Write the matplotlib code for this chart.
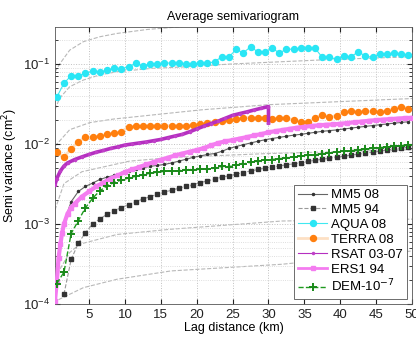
import numpy as np
import matplotlib.pyplot as plt
from matplotlib.ticker import LogLocator, NullFormatter, FixedLocator

plt.rcParams['font.family'] = ['Liberation Sans', 'DejaVu Sans']

# lag bins (km)
lag = np.arange(0.5, 50, 1.0)          # 0.5 ... 49.5
lag_mm5 = np.arange(1.5, 50, 1.0)      # 1.5 ... 49.5

aqua_08 = [0.0385, 0.0575, 0.0715, 0.0715, 0.0766, 0.0818, 0.0788, 0.0842, 0.0884, 0.0867,
           0.0925, 0.102, 0.0944, 0.100, 0.100, 0.1038, 0.102, 0.102, 0.099, 0.099,
           0.102, 0.102, 0.107, 0.123, 0.123, 0.152, 0.138, 0.164, 0.142, 0.142,
           0.157, 0.138, 0.152, 0.154, 0.157, 0.157, 0.157, 0.121, 0.121, 0.115,
           0.126, 0.123, 0.142, 0.126, 0.121, 0.133, 0.132, 0.136, 0.132, 0.129]

terra_08 = [0.00785, 0.00689, 0.00867, 0.0107, 0.0121, 0.0122, 0.0126, 0.0132, 0.0138, 0.0142,
            0.0164, 0.0166, 0.0166, 0.0169, 0.0169, 0.0169, 0.0169, 0.0169, 0.0169, 0.0174,
            0.0177, 0.0183, 0.0191, 0.0195, 0.0201, 0.0207, 0.0211, 0.0214, 0.0214, 0.0214,
            0.0207, 0.0211, 0.0211, 0.0201, 0.0191, 0.0188, 0.0211, 0.0232, 0.0217, 0.0227,
            0.0250, 0.0255, 0.0250, 0.0255, 0.0255, 0.0250, 0.0260, 0.0275, 0.0294, 0.0275]

mm5_08 = [1.05e-3, 1.9e-3, 2.55e-3, 2.95e-3, 3.25e-3, 3.6e-3, 3.85e-3, 4.05e-3, 4.3e-3, 4.6e-3,
          4.85e-3, 5.05e-3, 5.25e-3, 5.4e-3, 5.55e-3, 5.8e-3, 6.1e-3, 6.45e-3, 6.8e-3, 7.1e-3,
          7.4e-3, 7.6e-3, 8.1e-3, 8.8e-3, 9.3e-3, 9.8e-3, 1.03e-2, 1.08e-2, 1.13e-2, 1.17e-2,
          1.21e-2, 1.25e-2, 1.29e-2, 1.32e-2, 1.36e-2, 1.40e-2, 1.44e-2, 1.47e-2, 1.50e-2, 1.54e-2,
          1.58e-2, 1.62e-2, 1.66e-2, 1.70e-2, 1.74e-2, 1.78e-2, 1.82e-2, 1.86e-2, 1.90e-2]

mm5_94 = [1.33e-4, 3.6e-4, 5.75e-4, 7.8e-4, 1.0e-3, 1.16e-3, 1.32e-3, 1.47e-3, 1.6e-3, 1.75e-3,
          1.9e-3, 2.05e-3, 2.2e-3, 2.35e-3, 2.5e-3, 2.65e-3, 2.8e-3, 2.95e-3, 3.1e-3, 3.3e-3,
          3.45e-3, 3.65e-3, 3.85e-3, 4.0e-3, 4.2e-3, 4.4e-3, 4.6e-3, 4.8e-3, 5.0e-3, 5.15e-3,
          5.3e-3, 5.5e-3, 5.65e-3, 5.85e-3, 6.05e-3, 6.25e-3, 6.45e-3, 6.65e-3, 6.85e-3, 7.05e-3,
          7.25e-3, 7.45e-3, 7.65e-3, 7.9e-3, 8.15e-3, 8.4e-3, 8.65e-3, 8.9e-3, 9.2e-3]

dem = [1.8e-4, 2.5e-4, 7.6e-4, 1.1e-3, 1.6e-3, 2.1e-3, 2.6e-3, 3.0e-3, 3.3e-3, 3.55e-3,
       3.75e-3, 3.95e-3, 4.15e-3, 4.3e-3, 4.45e-3, 4.55e-3, 4.6e-3, 4.65e-3, 4.75e-3, 4.7e-3,
       4.85e-3, 4.8e-3, 5.0e-3, 5.25e-3, 5.2e-3, 5.5e-3, 5.6e-3, 5.9e-3, 6.1e-3, 6.3e-3,
       6.4e-3, 6.55e-3, 6.7e-3, 6.85e-3, 7.0e-3, 7.2e-3, 7.35e-3, 7.55e-3, 7.75e-3, 7.95e-3,
       8.1e-3, 8.25e-3, 8.45e-3, 8.6e-3, 8.8e-3, 9.0e-3, 9.2e-3, 9.4e-3, 9.55e-3, 9.75e-3]

rsat_lag = [0.25, 0.5, 1, 1.5, 2, 3, 4, 5, 6, 7, 8, 9, 10, 11, 12, 13, 14, 15, 16, 17,
            18, 19, 20, 21, 22, 23, 24, 25, 26, 27, 28, 29, 30, 30]
rsat = [0.0031, 0.0037, 0.0046, 0.0053, 0.0058, 0.0064, 0.0069, 0.0074, 0.0079, 0.0083,
        0.0088, 0.0092, 0.0097, 0.0100, 0.0103, 0.0106, 0.0110, 0.0114, 0.0120, 0.0126,
        0.0132, 0.0142, 0.0154, 0.0167, 0.0180, 0.0193, 0.0210, 0.0228, 0.0240, 0.0252,
        0.0266, 0.0280, 0.0294, 0.0183]

ers_lag = [0.25, 0.5, 0.75, 1, 1.25, 1.5, 2, 2.5, 3, 4, 5, 6, 7, 8, 9, 10, 11, 12, 13, 14,
           15, 16, 17, 18, 19, 20, 21, 22, 23, 24, 25, 26, 27, 28, 29, 30, 31, 32, 33, 34,
           35, 36, 37, 38, 39, 40, 41, 42, 43, 44, 45, 46, 47, 48, 49, 50]
ers1_94 = [1.1e-4, 1.9e-4, 3.8e-4, 5.6e-4, 7.8e-4, 1.0e-3, 1.35e-3, 1.6e-3, 1.8e-3, 2.2e-3,
           2.55e-3, 2.95e-3, 3.3e-3, 3.7e-3, 4.05e-3, 4.45e-3, 4.8e-3, 5.15e-3, 5.55e-3, 5.95e-3,
           6.35e-3, 6.75e-3, 7.2e-3, 7.6e-3, 8.0e-3, 8.4e-3, 8.9e-3, 9.6e-3, 1.03e-2, 1.08e-2,
           1.12e-2, 1.17e-2, 1.22e-2, 1.28e-2, 1.33e-2, 1.40e-2, 1.45e-2, 1.50e-2, 1.55e-2, 1.60e-2,
           1.64e-2, 1.68e-2, 1.71e-2, 1.74e-2, 1.76e-2, 1.79e-2, 1.83e-2, 1.87e-2, 1.91e-2, 1.95e-2,
           1.99e-2, 2.02e-2, 2.05e-2, 2.08e-2, 2.11e-2, 2.13e-2]

# grey dashed reference curves, read at a few lags
ref_curves = [
    ([0.25, 0.9, 2.3, 4.2, 6.5, 8.9, 13.1, 17.3, 25],
     [0.08, 0.10, 0.149, 0.19, 0.219, 0.241, 0.27, 0.29, 0.33]),
    ([0.25, 0.9, 2.3, 4.2, 6.5, 8.9, 13.6, 18.3, 24.8, 38.9, 50],
     [0.027, 0.0374, 0.052, 0.063, 0.073, 0.080, 0.088, 0.092, 0.100, 0.114, 0.123]),
    ([0.25, 2.3, 5.1, 8.4, 20.6, 30, 50],
     [0.0094, 0.0151, 0.0185, 0.0205, 0.0267, 0.031, 0.037]),
    ([0.25, 1.5, 4.0, 10.6, 16.7, 30, 50],
     [0.0015, 0.0032, 0.0045, 0.0061, 0.0068, 0.0076, 0.0085]),
    ([0.25, 0.8, 2.3, 3.7, 8.9, 16.4, 31.9, 50],
     [1.2e-4, 2.6e-4, 4.4e-4, 5.6e-4, 7.4e-4, 8.6e-4, 1.09e-3, 1.15e-3]),
    ([0.25, 0.45, 4.2, 8.9, 16.4, 31.9, 50],
     [1.0e-4, 1.1e-4, 1.6e-4, 2.04e-4, 2.59e-4, 3.14e-4, 4.6e-4]),
]

fig = plt.figure(figsize=(4.16, 3.40), dpi=100)
ax = fig.add_axes([55 / 416, 36 / 340, 357 / 416, 277 / 340])

for rx, ry in ref_curves:
    ax.plot(rx, ry, '--', color='#b8b8b8', lw=0.8, zorder=1)

ax.plot(lag_mm5, mm5_08, '-', color='#666666', lw=0.8, marker='.', ms=3,
        mfc='#333333', mec='#333333', label='MM5 08', zorder=3)
ax.plot(lag_mm5, mm5_94, '--', color='#999999', lw=0.8, marker='s', ms=3.5,
        mfc='#333333', mec='#333333', label='MM5 94', zorder=3)
ax.plot(lag, aqua_08, '-', color='#40e8f0', lw=0.8, marker='o', ms=4.3,
        mfc='#2ae6f5', mec='#2ae6f5', label='AQUA 08', zorder=3)
ax.plot(lag, terra_08, '-', color='#fde0c4', lw=2, marker='o', ms=4.3,
        mfc='#ff7f0e', mec='#ff7f0e', label='TERRA 08', zorder=3)
ax.plot(rsat_lag, rsat, '-', color='#b52fc0', lw=2.6, marker='.', ms=3,
        mfc='#c040c8', mec='#c040c8', label='RSAT 03-07', zorder=4)
ax.plot(ers_lag, ers1_94, '-', color='#f47cf0', lw=3.0, marker='s', ms=2.5,
        mfc='#f47cf0', mec='#f47cf0', label='ERS1 94', zorder=3)
ax.plot(lag, dem, '--', color='#1f9a1f', lw=1.0, marker='+', ms=6, mew=1.4,
        mfc='#1a8a1a', mec='#1a8a1a', label='DEM-10$^{-7}$', zorder=3)

ax.set_yscale('log')
ax.set_xlim(0.25, 50)
ax.set_ylim(1e-4, 0.29)
ax.xaxis.set_major_locator(FixedLocator([5, 10, 15, 20, 25, 30, 35, 40, 45, 50]))
ax.yaxis.set_major_locator(LogLocator(base=10))
ax.yaxis.set_minor_locator(LogLocator(base=10, subs=np.arange(2, 10)))
ax.yaxis.set_minor_formatter(NullFormatter())

ax.grid(True, which='major', linestyle=':', color='#c0c0c0', lw=0.7)
ax.grid(True, which='minor', axis='y', linestyle=':', color='#d4d4d4', lw=0.6)
ax.tick_params(which='both', direction='in', top=True, right=True, labelsize=9.5, colors='#222222')
ax.tick_params(which='major', length=3.5)
ax.tick_params(which='minor', length=2)
for s in ax.spines.values():
    s.set_color('#555555')
    s.set_linewidth(0.6)

ax.set_title('Average semivariogram', fontsize=9, pad=5)
ax.set_xlabel('Lag distance (km)', fontsize=9, labelpad=1)
ax.set_ylabel('Semi variance (cm$^2$)', fontsize=9, labelpad=2)

leg = ax.legend(loc='lower right', fontsize=9.5, frameon=True, fancybox=False,
                edgecolor='#555555', framealpha=1, borderaxespad=0.4,
                handlelength=2.2, handletextpad=0.3, labelspacing=0.2, borderpad=0.3)
leg.get_frame().set_linewidth(0.6)
# thinner lines in the key for RSAT and ERS1
leg.get_lines()[4].set_linewidth(0.8)
leg.get_lines()[5].set_linewidth(2.0)

fig.savefig('out.png', dpi=100)
